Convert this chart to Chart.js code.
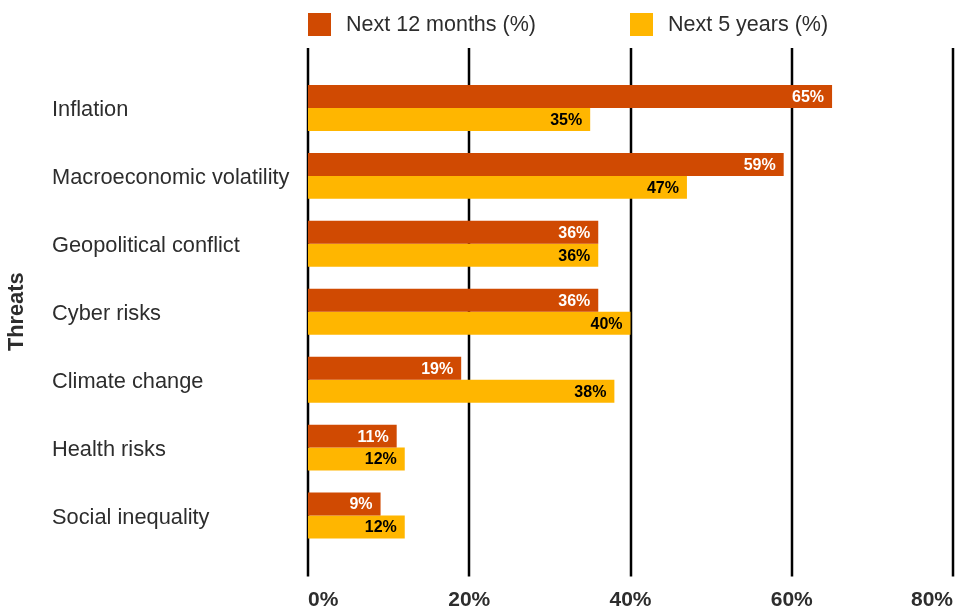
<!DOCTYPE html>
<html>
<head>
<meta charset="utf-8">
<script src="https://cdn.jsdelivr.net/npm/chart.js@4.4.1/dist/chart.umd.min.js"></script>
<style>
  html, body { margin: 0; padding: 0; background: #fff; }
  #wrap { width: 967px; height: 609px; position: relative; }
</style>
</head>
<body>
<div id="wrap"><canvas id="chart"></canvas></div>
<script>
const categories = ['Inflation', 'Macroeconomic volatility', 'Geopolitical conflict', 'Cyber risks', 'Climate change', 'Health risks', 'Social inequality'];
const next12Months = [65, 59, 36, 36, 19, 11, 9];
const next5Years = [35, 47, 36, 40, 38, 12, 12];
const seriesLabels = ['Next 12 months (%)', 'Next 5 years (%)'];
const xTicks = [0, 20, 40, 60, 80];
const axisTitle = 'Threats';

const FONT = '"Liberation Sans", Arial, Helvetica, sans-serif';
const ORANGE = '#d04a02';
const YELLOW = '#ffb600';
const TEXT = '#2d2d2d';

// vertical grid lines, running a bit past the plot area like the original
const gridLines = {
    id: 'gridLines',
    beforeDatasetsDraw(chart) {
        const { ctx, chartArea, scales: { x } } = chart;
        ctx.save();
        ctx.strokeStyle = '#000';
        ctx.lineWidth = 2.5;
        x.ticks.forEach(t => {
            const px = Math.round(x.getPixelForValue(t.value));
            ctx.beginPath();
            ctx.moveTo(px, chartArea.top - 26);
            ctx.lineTo(px, chartArea.bottom + 27);
            ctx.stroke();
        });
        ctx.restore();
    }
};

// value labels inside the bar ends
const barLabels = {
    id: 'barLabels',
    afterDatasetsDraw(chart) {
        const { ctx } = chart;
        ctx.save();
        ctx.font = 'bold 16px ' + FONT;
        ctx.textAlign = 'right';
        ctx.textBaseline = 'middle';
        chart.data.datasets.forEach((ds, i) => {
            ctx.fillStyle = i === 0 ? '#ffffff' : '#000000';
            chart.getDatasetMeta(i).data.forEach((bar, j) => {
                ctx.fillText(ds.data[j] + '%', bar.x - 8, bar.y + 1);
            });
        });
        ctx.restore();
    }
};

// legend + rotated axis title
const extras = {
    id: 'extras',
    afterDraw(chart) {
        const { ctx, chartArea } = chart;
        ctx.save();
        ctx.font = '21.5px ' + FONT;
        ctx.textBaseline = 'middle';
        ctx.textAlign = 'left';
        chart.data.datasets.forEach((ds, i) => {
            const left = chartArea.left + i * 322;
            ctx.fillStyle = ds.backgroundColor;
            ctx.fillRect(left, 13, 23, 23);
            ctx.fillStyle = TEXT;
            ctx.fillText(ds.label, left + 38, 25);
        });

        ctx.font = 'bold 21.8px ' + FONT;
        ctx.textAlign = 'center';
        ctx.translate(17, (chartArea.top + chartArea.bottom) / 2);
        ctx.rotate(-Math.PI / 2);
        ctx.fillText(axisTitle, 0, 0);
        ctx.restore();
    }
};

const ctx = document.getElementById('chart').getContext('2d');
new Chart(ctx, {
    type: 'bar',
    data: {
        labels: categories,
        datasets: [
            { label: seriesLabels[0], data: next12Months, backgroundColor: ORANGE },
            { label: seriesLabels[1], data: next5Years, backgroundColor: YELLOW }
        ]
    },
    options: {
        indexAxis: 'y',
        responsive: true,
        maintainAspectRatio: false,
        animation: false,
        layout: { padding: { top: 74, right: 14, bottom: 0, left: 52 } },
        datasets: { bar: { categoryPercentage: 0.676, barPercentage: 1 } },
        scales: {
            x: {
                min: xTicks[0],
                max: xTicks[xTicks.length - 1],
                afterBuildTicks: scale => { scale.ticks = xTicks.map(v => ({ value: v })); },
                afterFit: scale => {
                    scale.height = 59.5;
                    scale.paddingLeft = 0;
                    scale.paddingRight = 0;
                },
                border: { display: false },
                grid: { display: false, drawTicks: false },
                ticks: {
                    align: 'inner',
                    padding: 40,
                    color: TEXT,
                    font: { family: FONT, size: 21, weight: 'bold', lineHeight: 1 },
                    callback: v => v + '%'
                }
            },
            y: {
                border: { display: false },
                grid: { display: false, drawTicks: false },
                afterFit: scale => { scale.width = 256; },
                ticks: {
                    crossAlign: 'far',
                    labelOffset: 2,
                    color: TEXT,
                    font: { family: FONT, size: 21.8 }
                }
            }
        },
        plugins: {
            legend: { display: false },
            tooltip: { enabled: false }
        }
    },
    plugins: [gridLines, barLabels, extras]
});
</script>
</body>
</html>
